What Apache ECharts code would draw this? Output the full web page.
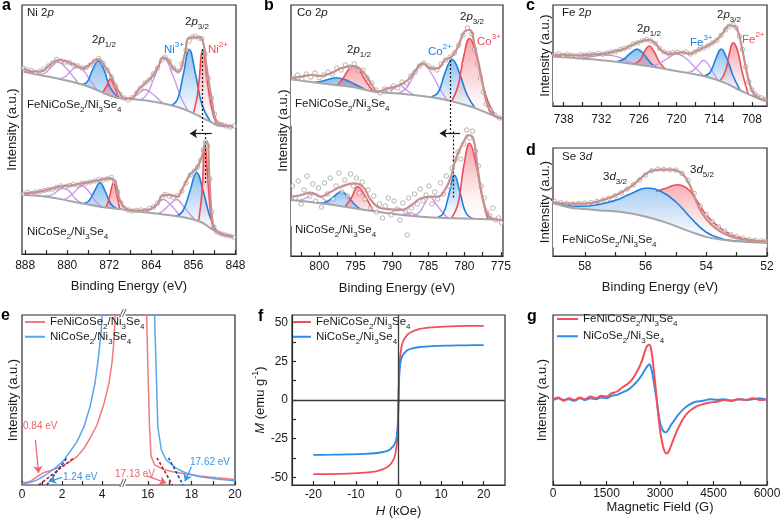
<!DOCTYPE html>
<html>
<head>
<meta charset="utf-8">
<script src="https://cdn.jsdelivr.net/npm/echarts@6/dist/echarts.min.js"></script>
<style>html,body{margin:0;background:#fff}#main{width:780px;height:522px}</style>
</head>
<body>
<div id="main"></div>
<script>
var FONT = 'Liberation Sans, Arial, Helvetica, sans-serif';

// ---------- a : Ni 2p ----------
var aTicks = [848,852,856,860,864,868,872,876,880,884,888];
var aLabels = [848,856,864,872,880,888];
var aTopBg = [[888.3,182.3],[885.2,179],[881.4,175],[876.3,168],[870.0,155.7],[867.4,154.7],[863.6,152.3],[859.2,147.3],[856.0,140.7],[852.8,132.3],[850.9,128],[848.4,127.3]];
var aTopEnv = [[888.3,185.7],[887.1,183],[885.2,182.3],[883.3,189],[881.7,194],[880.1,192.3],[878.5,189],[876.9,185.7],[875.4,190.7],[874.1,195],[872.8,187.3],[871.6,177.3],[870.3,163.3],[869.0,155.7],[867.8,155.7],[866.5,164],[865.2,170.7],[863.9,177.3],[862.7,187.3],[861.7,196.7],[860.8,194],[859.8,185.7],[858.9,182.3],[857.6,200.7],[857.0,215.7],[856.0,216.7],[854.8,216.7],[854.1,210.7],[853.5,187.3],[852.5,154],[851.6,132.3],[850.3,129],[848.4,127.3]];
var aTopDots = [[888.4,186],[887.6,184],[886.8,183.5],[886.0,181.5],[885.2,183],[884.4,185],[883.6,188],[882.8,191],[882.0,194.5],[881.2,193],[880.4,192],[879.6,191.5],[878.8,189],[878.0,188],[877.2,186],[876.4,186.5],[875.6,189],[874.8,193],[874.0,195.5],[873.2,191],[872.4,184],[871.6,177],[870.8,168],[870.0,160],[869.2,156],[868.4,154],[867.6,156.5],[866.8,161],[866.0,166],[865.2,171],[864.4,174],[863.6,180],[862.8,186],[862.0,194],[861.4,197],[860.6,193],[859.8,186],[859.0,183],[858.2,190],[857.4,204],[856.8,213],[856.2,217],[855.6,217.5],[855.0,216],[854.4,215.5],[853.8,200],[853.2,176],[852.6,156],[852.0,140],[851.4,131],[850.6,129.5],[849.8,128],[849.0,127],[848.2,128]];
var aTopSat1 = [[885.5,179],[884.2,181],[883.0,187],[881.7,192],[880.4,187],[879.1,179],[877.8,170]];
var aTopSat2 = [[881.5,175],[880.2,178],[879.1,184],[878.1,187],[877.0,184],[875.8,175],[874.4,164.5]];
var aTopB12 = [[877.3,169.5],[876.2,172],[875.2,184],[874.1,193],[873.0,184],[871.9,167],[870.3,156.5]];
var aTopR12 = [[873.2,162],[872.5,168],[871.8,175],[871.1,168],[870.2,157]];
var aTopSat3 = [[868.7,155],[867.5,157],[866.3,161],[865.2,164.5],[864.0,161],[862.8,155.5],[861.7,150]];
var aTopSat4 = [[866.2,153.5],[864.8,160],[863.4,177],[861.6,195.5],[859.8,177],[858.4,157],[857.0,142.8]];
var aTopNi3 = [[860.1,148.5],[859.0,155],[857.9,180],[856.8,204.5],[855.6,180],[854.4,150],[852.8,132.5]];
var aTopNi2 = [[856.0,141],[855.2,160],[854.2,204],[853.3,170],[852.5,145],[851.6,129.5]];

var aBotBg = [[888.3,59],[883.9,57.3],[878.8,52.3],[873.8,47.3],[868.7,44],[863.6,40.7],[858.5,37.3],[854.7,32.3],[852.2,24],[849.7,19],[848.4,17.3]];
var aBotEnv = [[888.3,60.7],[886.4,61.3],[883.9,64],[881.4,67.3],[878.8,69],[876.3,71.3],[873.8,74],[871.9,75.7],[870.9,72.3],[870.0,54],[869.0,45.7],[867.4,43.3],[864.9,44],[863.0,49],[861.7,59],[860.5,59],[859.2,57.3],[857.9,67.3],[856.7,79],[855.4,85.7],[854.4,97.3],[853.8,110.7],[853.4,112],[852.9,70.7],[852.2,27.3],[851.0,20.7],[848.4,17.3]];
var aBotDots = [[888.4,60],[887.6,61.5],[886.8,60.5],[886.0,62],[885.2,62.5],[884.4,63.5],[883.6,64.5],[882.8,65],[882.0,66.5],[881.2,68],[880.4,67],[879.6,68.5],[878.8,69.5],[878.0,69],[877.2,70.5],[876.4,71],[875.6,72],[874.8,73],[874.0,74.5],[873.2,74],[872.4,75],[871.6,76.5],[871.0,72],[870.4,62],[869.8,51],[869.2,46],[868.4,44],[867.6,43],[866.8,43.5],[866.0,44],[865.2,43.5],[864.4,45.5],[863.6,47],[862.8,51],[862.0,56.5],[861.4,59.5],[860.6,58],[859.8,57],[859.0,58.5],[858.2,63],[857.4,71],[856.6,79],[855.8,83],[855.2,87],[854.6,94],[854.1,104],[853.7,112],[853.3,108],[852.9,75],[852.5,42],[852.1,27],[851.5,22],[850.7,20],[849.9,19],[849.1,18],[848.3,17]];
var aBotSat1 = [[884.5,57.9],[883.0,59],[881.8,63],[880.7,66],[879.6,63],[878.4,55],[877.0,50.5]];
var aBotSat2 = [[881.4,53.5],[880.0,56],[878.6,62],[877.2,68],[875.8,62],[874.5,52],[873.2,46.7]];
var aBotB12 = [[876.9,50.4],[875.9,53],[874.8,63],[873.8,71.3],[872.8,63],[871.7,50],[870.6,45.2]];
var aBotR12 = [[872.6,46.5],[872.0,56],[871.2,71],[870.5,58],[870.0,44.8]];
var aBotSat3 = [[865.5,41.5],[864.3,44],[863.0,49.5],[861.7,54.5],[860.4,49.5],[859.3,43],[858.5,37.3]];
var aBotSat4 = [[863.0,40],[861.8,43],[860.5,49.5],[859.2,54.5],[857.9,48],[856.7,40],[855.5,33.4]];
var aBotNi3 = [[859.2,38],[858.0,43],[856.7,62],[855.4,81.3],[854.1,62],[852.9,38],[851.6,22.8]];
var aBotNi2 = [[855.0,33],[854.4,60],[853.8,110],[853.2,70],[852.6,35],[852.0,23.5]];

// ---------- b : Co 2p ----------
var bTicks = [775,777.5,780,782.5,785,787.5,790,792.5,795,797.5,800,802.5];
var bLabels = [775,780,785,790,795,800];
var bTopBg = [[803.9,176.7],[799.8,172.7],[795.2,168.7],[792.4,164.3],[788.3,162],[783.7,157.7],[779.1,149.3],[776.8,142.7],[774.9,137.7]];
var bTopEnv = [[803.9,177.7],[802.5,179.3],[801.2,181],[799.8,180],[798.4,182.7],[797.0,187.7],[795.4,190],[794.0,184.3],[792.9,172.7],[791.9,164.3],[790.6,167.7],[789.2,170],[787.8,176],[786.9,184.3],[785.7,192.7],[784.6,187.7],[783.7,187.7],[782.7,196],[781.8,199.3],[780.9,209.3],[780.0,224.3],[779.3,226],[778.6,210],[777.7,180],[776.8,150],[775.8,140],[774.9,137.7]];
var bTopDots = [[803.6,178],[803.0,181],[802.4,177],[801.8,182],[801.2,179],[800.6,183],[800.0,178.5],[799.4,181],[798.8,184],[798.2,182],[797.6,188],[797.0,186],[796.4,191],[795.8,189],[795.2,192],[794.6,186],[794.0,186],[793.4,178],[792.8,173],[792.2,166],[791.6,163],[791.0,167],[790.4,165],[789.8,170],[789.2,168],[788.6,174],[788.0,173],[787.4,180],[786.8,184],[786.2,190],[785.6,193],[785.0,190],[784.4,188],[783.8,186],[783.2,192],[782.6,196],[782.0,199],[781.4,203],[780.8,211],[780.2,221],[779.6,228],[779.0,222],[778.6,207],[778.2,192],[777.8,178],[777.4,164],[777.0,152],[776.4,146],[775.8,141],[775.2,138]];
var bTopB12 = [[800.7,173.5],[799.5,175],[798.6,177],[797.7,178.3],[796.5,176.5],[795.2,172],[793.8,167]];
var bTopR12 = [[797.5,170.5],[796.7,178],[796.0,186],[795.3,190.3],[794.5,186],[793.6,175],[792.6,164.5]];
var bTopSat1 = [[791.0,163.5],[790.0,166],[789.0,171],[788.0,166],[786.9,160.7]];
var bTopSat2 = [[789.2,162.5],[788.0,168],[786.8,183],[785.7,192.5],[784.6,183],[783.4,167],[782.3,155.1]];
var bTopCo2 = [[784.6,159],[783.6,164],[782.7,183],[781.7,196.5],[780.7,183],[779.7,162],[778.6,148.5]];
var bTopCo3 = [[781.8,154],[780.9,170],[780.1,200],[779.3,217.5],[778.5,205],[777.7,178],[776.8,155],[775.8,140.5]];

var bBotBg = [[803.9,56],[799.8,52.7],[795.2,47.7],[790.6,42.7],[786.0,39.3],[781.4,37.7],[776.8,36.7],[774.9,36]];
var bBotEnv = [[803.9,59.3],[802.5,61],[801.2,63.3],[799.8,59.3],[798.4,64.3],[797.0,69.3],[795.2,72.7],[794.0,69.3],[792.9,56],[791.5,47.7],[790.1,46.7],[788.7,46],[787.3,51],[786.0,57.7],[784.6,59.3],[783.7,59.3],[782.7,66],[781.8,81],[781.4,92.7],[780.7,106],[780.0,116],[779.5,121],[778.8,117.7],[778.1,82.7],[777.2,49.3],[776.3,37.7],[774.9,36]];
var bBotDots = [[803.7,70],[803.3,58],[802.9,75],[802.5,52],[802.1,66],[801.7,80],[801.3,60],[800.9,72],[800.5,55],[800.1,68],[799.7,49],[799.3,73],[798.9,62],[798.5,78],[798.1,57],[797.7,70],[797.3,83],[796.9,64],[796.5,76],[796.1,60],[795.7,82],[795.3,70],[794.9,78],[794.5,63],[794.1,74],[793.7,57],[793.3,66],[792.9,48],[792.5,60],[792.1,44],[791.7,52],[791.3,38],[790.9,50],[790.5,58],[790.1,41],[789.7,55],[789.3,47],[788.9,36],[788.5,53],[788.1,44],[787.9,21],[787.7,58],[787.3,48],[786.9,62],[786.5,52],[786.1,67],[785.7,55],[785.3,61],[784.9,70],[784.5,52],[784.1,64],[783.7,57],[783.3,73],[782.9,62],[782.5,80],[782.1,70],[781.7,88],[781.3,96],[780.9,104],[780.5,97],[780.1,112],[779.7,126],[779.3,118],[778.9,125],[778.5,105],[778.1,90],[777.7,70],[777.3,58],[776.9,44],[776.5,40],[776.1,48],[775.7,36],[775.3,38],[774.9,33]];
var bBotSat0 = [[803.0,55],[801.8,58],[800.7,62.5],[799.6,58],[798.4,51.2]];
var bBotB12 = [[799.8,52.7],[798.9,54.5],[797.9,60],[797.0,64.3],[796.1,60],[795.2,52],[794.3,46.7]];
var bBotR12 = [[796.5,49],[795.6,58],[794.7,69.3],[793.7,60],[792.6,44.8]];
var bBotSat1 = [[790.6,42.7],[789.8,44.5],[789.0,47.5],[788.2,44.5],[787.3,40.2]];
var bBotSat2 = [[788.6,41],[788.0,41.8],[787.5,43.3],[786.9,41.8],[786.3,39.5]];
var bBotSat3 = [[787.3,39.8],[786.3,43],[785.5,52],[784.8,59.3],[784.0,53],[783.1,44],[782.3,38]];
var bBotCo2 = [[783.7,38.5],[782.9,43],[782.1,63],[781.4,81],[780.6,63],[779.8,43],[778.8,37.3]];
var bBotCo3 = [[781.8,37.8],[780.9,52],[780.1,90],[779.3,112.7],[778.5,95],[777.6,60],[776.8,36.7]];

// ---------- c : Fe 2p ----------
var cTicks = [708,711,714,717,720,723,726,729,732,735,738];
var cLabels = [708,714,720,726,732,738];
var cBg = [[739.7,49.1],[734.9,46.9],[729.6,43.8],[724.2,39.1],[718.9,33.4],[715.7,29.7],[712.5,23.4],[709.9,15.6],[707.7,9.4],[705.6,5.3]];
var cEnv = [[739.7,50],[738.1,50.9],[736.0,50],[733.8,50.9],[731.7,51.6],[730.1,53.8],[728.5,56.3],[726.9,60.9],[725.6,64.1],[724.5,65.6],[723.5,62.5],[722.4,54.7],[721.3,51.6],[720.0,52.5],[718.9,53.1],[717.9,51.6],[716.8,54.7],[715.7,57.8],[714.7,60.9],[713.6,65.6],[712.5,73.4],[711.7,79.7],[711.2,79.7],[710.4,76.6],[709.6,57.8],[708.8,32.8],[708.0,15.6],[707.2,9.4],[706.2,6.3],[705.6,6.3]];
var cDots = [[739.5,50.5],[738.8,51.5],[738.1,50],[737.4,51.2],[736.7,50.2],[736.0,49.5],[735.3,51],[734.6,50.3],[733.9,51.5],[733.2,50.8],[732.5,52],[731.8,51.3],[731.1,52.5],[730.4,53.5],[729.7,54],[729.0,55.8],[728.3,57],[727.6,58.5],[726.9,61.5],[726.2,62.5],[725.5,64.5],[724.8,65.8],[724.1,64.5],[723.4,62],[722.7,57],[722.0,53.5],[721.3,52],[720.6,52.8],[719.9,53],[719.2,52.2],[718.5,53.5],[717.8,51.5],[717.1,53.5],[716.4,56],[715.7,57.5],[715.0,59.5],[714.3,62.5],[713.6,65],[712.9,70],[712.2,75.5],[711.6,79],[711.0,80.5],[710.5,77.5],[710.0,69],[709.5,56],[709.0,39],[708.5,24],[708.0,16],[707.5,12],[707.0,9],[706.5,8],[706.0,6.5]];
var cSat1 = [[735.5,47.2],[733.5,49],[731.5,50.5],[729.5,49],[727.5,43.5],[725.5,40.2]];
var cB12 = [[729.6,43.8],[728.5,46],[727.4,52],[726.3,56.3],[725.2,51],[724.2,43],[723.2,38.3]];
var cR12 = [[726.9,41.5],[725.9,45],[725.1,54],[724.4,59.4],[723.6,54],[722.8,44],[721.9,37.2]];
var cSat2 = [[724.2,39.1],[722.8,42],[721.4,47.5],[720.0,51.6],[718.6,47.5],[717.2,39],[715.7,29.7]];
var cSat3 = [[718.4,32.8],[717.4,35],[716.5,40.5],[715.7,45.3],[714.9,40.5],[714.0,31],[713.3,25]];
var cFe3 = [[715.7,29.7],[714.7,33],[713.8,46],[712.9,56.3],[712.0,47],[711.0,30],[709.9,15.6]];
var cFe2 = [[713.1,24.6],[712.2,35],[711.6,52],[711.0,62.5],[710.3,55],[709.5,32],[708.6,11.9]];

// ---------- d : Se 3d ----------
var dTicks = [52,53,54,55,56,57,58];
var dLabels = [52,54,56,58];
var dBg = [[59.05,49],[58.5,45],[58.06,43.6],[57.5,42.2],[56.96,41.3],[56.08,37.1],[55.3,30.7],[54.53,22.6],[53.87,16.8],[52.99,13.6],[52.0,12.3]];
var dEnv = [[59.05,50],[58.5,48.5],[58.0,48.5],[57.5,51],[57.0,56],[56.5,64],[56.2,71],[55.85,78.5],[55.5,80],[55.2,80],[54.95,79],[54.75,75],[54.55,66],[54.35,52],[54.15,40],[53.9,31],[53.5,22],[53.0,16.5],[52.5,14.5],[52.0,13.5]];
var dDots = [[59.0,50.5],[58.8,49.5],[58.6,48.8],[58.4,48.2],[58.2,48.6],[58.0,48.9],[57.8,49.6],[57.6,50.5],[57.4,51.8],[57.2,53.5],[57.0,55.8],[56.8,58.5],[56.6,62],[56.4,66],[56.2,70.5],[56.0,75],[55.8,79],[55.6,80.5],[55.4,80.2],[55.2,79.8],[55.0,79.5],[54.8,76.5],[54.6,70],[54.4,58],[54.2,46],[54.0,38.5],[53.8,32],[53.6,27],[53.4,23],[53.2,20],[53.0,18],[52.8,16.5],[52.6,15.2],[52.4,14.5],[52.2,14],[52.05,13.8]];
var d32 = [[59.05,49],[58.5,46.5],[58.0,46],[57.5,48],[57.0,51.5],[56.5,57.5],[55.95,63],[55.5,60],[55.0,50],[54.5,35],[54.0,22],[53.5,16],[53.0,13.8],[52.5,12.8],[52.0,12.3]];
var d52 = [[55.65,60],[55.3,63],[54.97,66],[54.65,63],[54.35,53],[54.0,38],[53.6,27],[53.2,20],[52.8,16.5],[52.4,14.3],[52.0,13]];

// ---------- e : UPS ----------
var eTicksL = [0,1,2,3,4,5];
var eLabelsL = [0,2,4];
var eTicksR = [16,17,18,19,20];
var eLabelsR = [16,18,20];
var eRedL = [[0,1],[0.4,2],[0.75,4.9],[1.1,7.3],[1.4,8.4],[1.75,9.8],[2.1,11.8],[2.4,13.7],[2.75,16.7],[3.1,21.6],[3.4,27.5],[3.75,35.3],[4.1,48],[4.35,60],[4.5,72],[4.6,85],[4.66,100],[4.7,110]];
var eBlueL = [[0,0.6],[0.4,1.4],[0.75,3],[1.1,5.3],[1.4,7.8],[1.75,10.8],[2.1,14.7],[2.4,19.6],[2.75,25.5],[3.1,34.3],[3.4,46],[3.65,60],[3.8,73],[3.95,89],[4.0,100],[4.03,110]];
var eRedR = [[15.9,110],[15.95,100],[16.0,70],[16.08,34],[16.15,17],[16.3,12],[16.7,9.2],[17.15,7.8],[17.77,6.5],[18.38,5.3],[19.15,4.3],[20,3.3]];
var eBlueR = [[16.28,110],[16.31,100],[16.38,70],[16.46,34],[16.62,20.6],[16.85,14.7],[17.31,9.8],[17.77,6.9],[18.38,4.9],[19.15,3.5],[20,2.5]];
var eTanRedL = [[0.84,0],[2.6,16]];
var eTanBlueL = [[1.24,0],[2.25,16]];
var eTanRedR = [[16.42,16],[17.13,0]];
var eTanBlueR = [[16.95,16],[17.62,0]];

// ---------- f : M-H ----------
var fH = [-20,-16,-12,-8,-5,-3,-2,-1,-0.5,-0.25,-0.1,0,0.1,0.25,0.5,1,2,3,5,8,12,16,20];
var fRed = [-48,-47.9,-47.6,-47,-46,-44,-42,-37.5,-31,-22,-12,0,12,22,31,37.5,42,44,46,47,47.6,47.9,48];
var fBlue = [-35.5,-35.4,-35.2,-34.9,-34.3,-33.3,-32,-29,-25,-19,-10,0,10,19,25,29,32,33.3,34.3,34.9,35.2,35.4,35.5];
var fTicksX = [-20,-15,-10,-5,0,5,10,15,20];
var fLabelsX = [-20,-10,0,10,20];
var fTicksY = [-50,-37.5,-25,-12.5,0,12.5,25,37.5,50];
var fLabelsY = [-50,-25,0,25,50];

// ---------- g : EPR ----------
var gField = [0,150,300,450,600,750,900,1050,1200,1350,1500,1650,1800,1950,2100,2250,2400,2500,2600,2650,2700,2750,2800,2850,2900,2950,3000,3050,3100,3150,3200,3250,3300,3400,3500,3650,3800,4000,4200,4400,4600,4800,5000,5200,5400,5600,5800,6000];
var gRed = [0.01,0.03,-0.01,0.02,0,0.03,0.01,0.04,0.02,0.05,0.04,0.08,0.1,0.15,0.19,0.26,0.37,0.47,0.6,0.64,0.65,0.6,0.45,0.26,0.05,-0.17,-0.35,-0.48,-0.57,-0.62,-0.63,-0.6,-0.55,-0.44,-0.34,-0.22,-0.14,-0.08,-0.05,-0.03,-0.02,0,-0.01,0.01,0,0.02,0,0.01];
var gBlue = [0,0.02,0,0.01,-0.01,0.02,0,0.02,0.01,0.03,0.02,0.05,0.06,0.09,0.12,0.17,0.24,0.3,0.37,0.4,0.42,0.38,0.28,0.15,0.02,-0.14,-0.26,-0.33,-0.37,-0.38,-0.37,-0.34,-0.3,-0.24,-0.18,-0.11,-0.06,-0.02,-0.01,0.01,0,0.01,-0.01,0.01,0,0.01,0.02,0];
var gTicks = [0,750,1500,2250,3000,3750,4500,5250,6000];
var gLabels = [0,1500,3000,4500,6000];

var FE = '{n|FeNiCoSe}{b|2}{n|/Ni}{b|3}{n|Se}{b|4}';
var NI = '{n|NiCoSe}{b|2}{n|/Ni}{b|3}{n|Se}{b|4}';
var BLUE = '#1f80e0', RED = '#f04b57', PURPLE = '#c893e6', INK = '#1a1a1a';

function pairs(xs, ys) {
    return xs.map(function (x, i) { return [x, ys[i]]; });
}

// rich text styles; key is 'color' for components, 'fill' for graphic
function rich(size, color, key) {
    var s = Math.round(size * 0.7 * 10) / 10, lh = size + 6;
    function st(fs, l, va, it) {
        var r = {fontFamily: FONT, fontSize: fs, lineHeight: l};
        r[key] = color;
        if (va) r.verticalAlign = va;
        if (it) r.fontStyle = 'italic';
        return r;
    }
    return {n: st(size, lh), i: st(size, lh, null, true), b: st(s, s, 'bottom'), t: st(s, s, 'top')};
}

function grad(rgb, a) {
    return new echarts.graphic.LinearGradient(0, 0, 0, 1, [
        {offset: 0, color: 'rgba(' + rgb + ',' + a + ')'},
        {offset: 0.7, color: 'rgba(' + rgb + ',0.05)'},
        {offset: 1, color: 'rgba(' + rgb + ',0)'}
    ]);
}
// opaque version (colour already mixed with white), hides what lies under it
function solidGrad(top) {
    return new echarts.graphic.LinearGradient(0, 0, 0, 1, [
        {offset: 0, color: top},
        {offset: 0.75, color: '#f4f8fd'},
        {offset: 1, color: '#ffffff'}
    ]);
}
function comp(ax, data, kind, origin, alpha) {
    var a = alpha || 0.5;
    var s = {type: 'line', xAxisIndex: ax, yAxisIndex: ax, data: data, symbol: 'none', smooth: 0.45, silent: true, z: 2,
        lineStyle: {width: 1.6}};
    if (kind === 'blue') { s.lineStyle.color = BLUE; s.areaStyle = {origin: origin, color: grad('31,128,224', a), opacity: 1}; }
    else if (kind === 'blueSolid') { s.lineStyle.color = BLUE; s.areaStyle = {origin: origin, color: solidGrad('#a9cdf3'), opacity: 1}; }
    else if (kind === 'red') { s.lineStyle.color = RED; s.areaStyle = {origin: origin, color: grad('240,75,87', a), opacity: 1}; }
    else { s.lineStyle.color = PURPLE; s.lineStyle.width = 1.3; }
    return s;
}
function bgLine(ax, data, origin) {
    return {type: 'line', xAxisIndex: ax, yAxisIndex: ax, data: data, symbol: 'none', smooth: 0.45, silent: true, z: 3,
        lineStyle: {color: '#a6a6a6', width: 2}, areaStyle: {origin: origin, color: '#fff', opacity: 1}};
}
function envLine(ax, data, mark) {
    var s = {type: 'line', xAxisIndex: ax, yAxisIndex: ax, data: data, symbol: 'none', smooth: 0.45, silent: true, z: 5,
        lineStyle: {color: '#c6908d', width: 2.2}};
    if (mark) s.markLine = mark;
    return s;
}
function dots(ax, data) {
    return {type: 'scatter', xAxisIndex: ax, yAxisIndex: ax, data: data, symbolSize: 4.5, silent: true, z: 4,
        itemStyle: {color: 'rgba(255,255,255,0.6)', borderColor: '#8e8e8e', borderWidth: 0.8}};
}
function dashMarks(items) {
    return {silent: true, symbol: 'none', label: {show: false}, animation: false,
        lineStyle: {color: INK, type: [2, 2], width: 1.2}, data: items};
}
function arrowMark(p0, p1, color) {
    return [{coord: p0, symbol: 'none', lineStyle: {type: 'solid', color: color, width: 1.2}}, {coord: p1, symbol: 'arrow', symbolSize: 7}];
}

function plainNum(v) { return String(v); }

function xax(gi, min, max, ticks, labels, extra) {
    var o = {
        type: 'value', gridIndex: gi, min: min, max: max,
        axisLine: {show: true, onZero: false, lineStyle: {color: '#2b2b2b', width: 1.2}},
        axisTick: {show: true, inside: true, length: 4, customValues: ticks, lineStyle: {color: '#2b2b2b', width: 1.2}},
        axisLabel: {customValues: labels, margin: 6, color: INK, fontSize: 12, fontFamily: FONT, showMinLabel: true, showMaxLabel: true, formatter: plainNum},
        splitLine: {show: false},
        nameLocation: 'middle', nameGap: 26,
        nameTextStyle: {fontFamily: FONT, fontSize: 13, color: INK, rich: rich(13, INK, 'color')}
    };
    for (var k in extra) {
        if (k === 'labelMargin') o.axisLabel.margin = extra[k];
        else o[k] = extra[k];
    }
    return o;
}
function yax(gi, min, max, name, gap) {
    return {
        type: 'value', gridIndex: gi, min: min, max: max,
        axisLine: {show: false}, axisTick: {show: false}, axisLabel: {show: false}, splitLine: {show: false},
        name: name, nameLocation: 'middle', nameGap: gap,
        nameTextStyle: {fontFamily: FONT, fontSize: 13, color: INK}
    };
}

var gridBase = {show: true, borderColor: '#2b2b2b', borderWidth: 1.2, outerBoundsMode: 'none', containLabel: false};
function grid(l, t, w, h, show) {
    var g = {left: l, top: t, width: w, height: h};
    for (var k in gridBase) g[k] = gridBase[k];
    if (show === false) g.show = false;
    return g;
}

var G = rich(11.5, INK, 'fill');
function T(x, y, text, color) {
    return {type: 'text', left: x, top: y, z: 100, silent: true,
        style: {text: text, rich: color ? rich(11.5, color, 'fill') : G, fill: color || INK, fontFamily: FONT, fontSize: 11.5}};
}
function P(x, y, text, color, size) {
    return {type: 'text', left: x, top: y, z: 100, silent: true,
        style: {text: text, fill: color, fontFamily: FONT, fontSize: size || 10}};
}
function L(x, y, t) {
    return {type: 'text', left: x, top: y, z: 100, silent: true,
        style: {text: t, fill: '#000', fontFamily: FONT, fontSize: 16, fontWeight: 'bold'}};
}

var legendBase = function (names, left, top, gap, w) {
    return {
        data: names, left: left, top: top, orient: 'vertical', itemWidth: w, itemHeight: 2, itemGap: gap,
        icon: 'rect', padding: 0, selectedMode: false,
        formatter: function (n) { return n.charAt(1) === 'F' ? FE : NI; },
        textStyle: {fontFamily: FONT, fontSize: 11.5, color: INK, rich: rich(11.5, INK, 'color')}
    };
};

function plain(ax, name, data, color, width, z, extra) {
    var s = {type: 'line', name: name, xAxisIndex: ax, yAxisIndex: ax, data: data, symbol: 'none', silent: true,
        z: z || 3, lineStyle: {color: color, width: width}, itemStyle: {color: color}};
    for (var k in extra) s[k] = extra[k];
    return s;
}

var ERED = '#f27880', EBLUE = '#5aa6ec';

var option = {
    animation: false,
    backgroundColor: '#fff',
    textStyle: {fontFamily: FONT},
    grid: [
        grid(22, 5, 214, 249),      // a
        grid(291, 5, 212, 251),     // b
        grid(553, 5, 214, 101),     // c
        grid(553, 148, 214, 108),   // d
        grid(22, 315, 213, 170),    // e frame
        grid(22, 315, 104, 170, false),
        grid(126, 315, 109, 170, false),
        grid(292, 315, 213, 170),   // f
        grid(553, 315, 214, 170)    // g
    ],
    xAxis: [
        xax(0, 847.9, 888.6, aTicks, aLabels, {inverse: true, name: 'Binding Energy (eV)'}),
        xax(1, 774.7, 803.9, bTicks, bLabels, {inverse: true, name: 'Binding Energy (eV)', labelMargin: 5}),
        xax(2, 705.6, 739.7, cTicks, cLabels, {inverse: true, labelMargin: 8}),
        xax(3, 52, 59.05, dTicks, dLabels, {inverse: true, name: 'Binding Energy (eV)', nameGap: 25, labelMargin: 5}),
        {type: 'value', gridIndex: 4, min: 0, max: 1, show: false},
        xax(5, 0, 5.2, eTicksL, eLabelsL, {axisLine: {show: false}, labelMargin: 4}),
        xax(6, 15, 20, eTicksR, eLabelsR, {axisLine: {show: false}, labelMargin: 4}),
        xax(7, -25, 25, fTicksX, fLabelsX, {name: '{i|H} (kOe)', nameGap: 17, labelMargin: 4}),
        xax(8, 0, 6000, gTicks, gLabels, {name: 'Magnetic Field (G)', nameGap: 16, labelMargin: 3})
    ],
    yAxis: [
        yax(0, 0, 249, 'Intensity (a.u.)', 3),
        yax(1, 0, 251, 'Intensity (a.u.)', 1),
        yax(2, 0, 100, 'Intensity (a.u.)', 1.5),
        yax(3, 0, 100, 'Intensity (a.u.)', 1.5),
        {type: 'value', gridIndex: 4, min: 0, max: 1, show: false},
        yax(5, 0, 100, 'Intensity (a.u.)', 2.5),
        {type: 'value', gridIndex: 6, min: 0, max: 100, show: false},
        {
            type: 'value', gridIndex: 7, min: -55, max: 55,
            axisLine: {show: true, onZero: false, lineStyle: {color: '#2b2b2b', width: 1.2}},
            axisTick: {show: true, inside: true, length: 4, customValues: fTicksY, lineStyle: {color: '#2b2b2b', width: 1.2}},
            axisLabel: {customValues: fLabelsY, margin: 4, color: INK, fontSize: 12, fontFamily: FONT, formatter: plainNum},
            splitLine: {show: false},
            name: '{i|M} (emu g{t|-1})', nameLocation: 'middle', nameGap: 19,
            nameTextStyle: {fontFamily: FONT, fontSize: 13, color: INK, rich: rich(13, INK, 'color')}
        },
        yax(8, -1, 1, 'Intensity (a.u.)', 4)
    ],
    legend: [
        legendBase(['eF', 'eN'], 25, 316, 0, 20),
        legendBase(['fF', 'fN'], 293, 316, 0, 18),
        legendBase(['gF', 'gN'], 557, 313, 2.5, 21)
    ],
    series: [
        // a upper
        comp(0, aTopSat1, 'purple', 120), comp(0, aTopSat2, 'purple', 120),
        comp(0, aTopB12, 'blue', 120), comp(0, aTopR12, 'red', 120),
        comp(0, aTopSat3, 'purple', 120), comp(0, aTopSat4, 'purple', 120),
        comp(0, aTopNi3, 'blue', 120), comp(0, aTopNi2, 'red', 120),
        bgLine(0, aTopBg, 120), dots(0, aTopDots),
        envLine(0, aTopEnv, dashMarks([
            [{coord: [854.3, 205]}, {coord: [854.3, 121]}],
            [{coord: [853.7, 121]}, {coord: [853.7, 70]}],
            arrowMark([852.5, 120.5], [856.65, 120.5], INK)
        ])),
        // a lower
        comp(0, aBotSat1, 'purple', 10), comp(0, aBotSat2, 'purple', 10),
        comp(0, aBotB12, 'blue', 10), comp(0, aBotR12, 'red', 10),
        comp(0, aBotSat3, 'purple', 10), comp(0, aBotSat4, 'purple', 10),
        comp(0, aBotNi3, 'blue', 10), comp(0, aBotNi2, 'red', 10),
        bgLine(0, aBotBg, 10), dots(0, aBotDots), envLine(0, aBotEnv),
        // b upper
        comp(1, bTopB12, 'blue', 130), comp(1, bTopR12, 'red', 130),
        comp(1, bTopSat1, 'purple', 130), comp(1, bTopSat2, 'purple', 130),
        comp(1, bTopCo2, 'blue', 130), comp(1, bTopCo3, 'red', 130),
        bgLine(1, bTopBg, 130), dots(1, bTopDots),
        envLine(1, bTopEnv, dashMarks([
            [{coord: [782.0, 196]}, {coord: [782.0, 122.7]}],
            [{coord: [781.6, 124.5]}, {coord: [781.6, 58]}],
            arrowMark([780.6, 122.7], [783.4, 122.7], INK)
        ])),
        // b lower
        comp(1, bBotSat0, 'purple', 30), comp(1, bBotB12, 'blue', 30), comp(1, bBotR12, 'red', 30),
        comp(1, bBotSat1, 'purple', 30), comp(1, bBotSat2, 'purple', 30), comp(1, bBotSat3, 'purple', 30),
        comp(1, bBotCo2, 'blue', 30), comp(1, bBotCo3, 'red', 30),
        bgLine(1, bBotBg, 30), dots(1, bBotDots), envLine(1, bBotEnv),
        // c
        comp(2, cSat1, 'purple', 4), comp(2, cB12, 'blue', 4), comp(2, cR12, 'red', 4),
        comp(2, cSat2, 'purple', 4), comp(2, cSat3, 'purple', 4),
        comp(2, cFe3, 'blue', 4), comp(2, cFe2, 'red', 4),
        bgLine(2, cBg, 4), dots(2, cDots), envLine(2, cEnv),
        // d : red first, opaque blue on top so the red shows only above the blue peak
        comp(3, d52, 'red', 8, 0.45), comp(3, d32, 'blueSolid', 8),
        bgLine(3, dBg, 8), dots(3, dDots), envLine(3, dEnv),
        // e
        plain(5, 'eF', eRedL, ERED, 1.5, 3, {markLine: {silent: true, label: {show: false}, data: [arrowMark([0.67, 26.5], [0.83, 7], '#f06066')]}}),
        plain(5, 'eN', eBlueL, EBLUE, 1.5, 3, {markLine: {silent: true, label: {show: false}, data: [arrowMark([2.0, 4.5], [1.35, 2], '#3a95e0')]}}),
        plain(6, 'eF', eRedR, ERED, 1.5, 3, {markLine: {silent: true, label: {show: false}, data: [arrowMark([15.92, 5.5], [16.85, 1.2], '#f06066')]}}),
        plain(6, 'eN', eBlueR, EBLUE, 1.5, 3, {markLine: {silent: true, label: {show: false}, data: [arrowMark([18.0, 10.8], [17.7, 2.2], '#3a95e0')]}}),
        plain(5, 'tan1', eTanRedL, '#b3222b', 1.6, 4, {lineStyle: {color: '#b3222b', width: 1.6, type: [3, 2]}}),
        plain(5, 'tan2', eTanBlueL, '#1d4fa8', 1.6, 4, {lineStyle: {color: '#1d4fa8', width: 1.6, type: [3, 2]}}),
        plain(6, 'tan3', eTanRedR, '#b3222b', 1.6, 4, {lineStyle: {color: '#b3222b', width: 1.6, type: [3, 2]}}),
        plain(6, 'tan4', eTanBlueR, '#1d4fa8', 1.6, 4, {lineStyle: {color: '#1d4fa8', width: 1.6, type: [3, 2]}}),
        // f
        plain(7, 'fF', pairs(fH, fRed), '#f0505a', 1.8, 3, {smooth: 0.3,
            markLine: {silent: true, symbol: 'none', label: {show: false}, lineStyle: {color: '#3a3a3a', type: 'solid', width: 1.3},
                data: [{xAxis: 0}, {yAxis: 0}]}}),
        plain(7, 'fN', pairs(fH, fBlue), '#2d8ae6', 1.8, 3, {smooth: 0.3}),
        // g
        plain(8, 'gN', pairs(gField, gBlue), '#2f8fe8', 2, 3, {smooth: 0.3}),
        plain(8, 'gF', pairs(gField, gRed), '#f0505c', 2, 4, {smooth: 0.3})
    ],
    graphic: [
        L(2, -2, 'a'), L(264, -2, 'b'), L(526, -2, 'c'), L(526, 143, 'd'),
        L(1, 308, 'e'), L(258, 309, 'f'), L(527, 309, 'g'),
        T(27, 7, '{n|Ni 2}{i|p}'),
        T(92, 34, '{n|2}{i|p}{b|1/2}'),
        T(185, 16, '{n|2}{i|p}{b|3/2}'),
        T(164, 41, '{n|Ni}{t|3+}', BLUE),
        T(208, 41, '{n|Ni}{t|2+}', RED),
        T(27, 99, FE), T(27, 226, NI),
        T(297, 7, '{n|Co 2}{i|p}'),
        T(347, 44, '{n|2}{i|p}{b|1/2}'),
        T(460, 11, '{n|2}{i|p}{b|3/2}'),
        T(428, 43, '{n|Co}{t|2+}', BLUE),
        T(477, 33, '{n|Co}{t|3+}', RED),
        T(295, 98, FE), T(295, 224, NI),
        T(562, 7, '{n|Fe 2}{i|p}'),
        T(637, 23, '{n|2}{i|p}{b|1/2}'),
        T(717, 9, '{n|2}{i|p}{b|3/2}'),
        T(690, 34, '{n|Fe}{t|3+}', BLUE),
        T(742, 31, '{n|Fe}{t|2+}', RED),
        T(562, 151, '{n|Se 3}{i|d}'),
        T(603, 171, '{n|3}{i|d}{b|3/2}'),
        T(690, 164, '{n|3}{i|d}{b|5/2}'),
        T(562, 234, FE),
        P(23, 421, '0.84 eV', '#f06066'),
        P(63, 472, '1.24 eV', '#3a95e0'),
        P(115, 469, '17.13 eV', '#f06066'),
        P(190, 457, '17.62 eV', '#3a95e0'),
        {type: 'text', left: 120, top: 309, z: 100, silent: true, style: {text: '//', fill: '#333', fontFamily: FONT, fontSize: 10, fontStyle: 'italic', backgroundColor: '#fff'}},
        {type: 'text', left: 120, top: 479, z: 100, silent: true, style: {text: '//', fill: '#333', fontFamily: FONT, fontSize: 10, fontStyle: 'italic', backgroundColor: '#fff'}}
    ]
};

var chart = echarts.init(document.getElementById('main'));
chart.setOption(option);
window.addEventListener('resize', function () { chart.resize(); });
</script>
</body>
</html>
